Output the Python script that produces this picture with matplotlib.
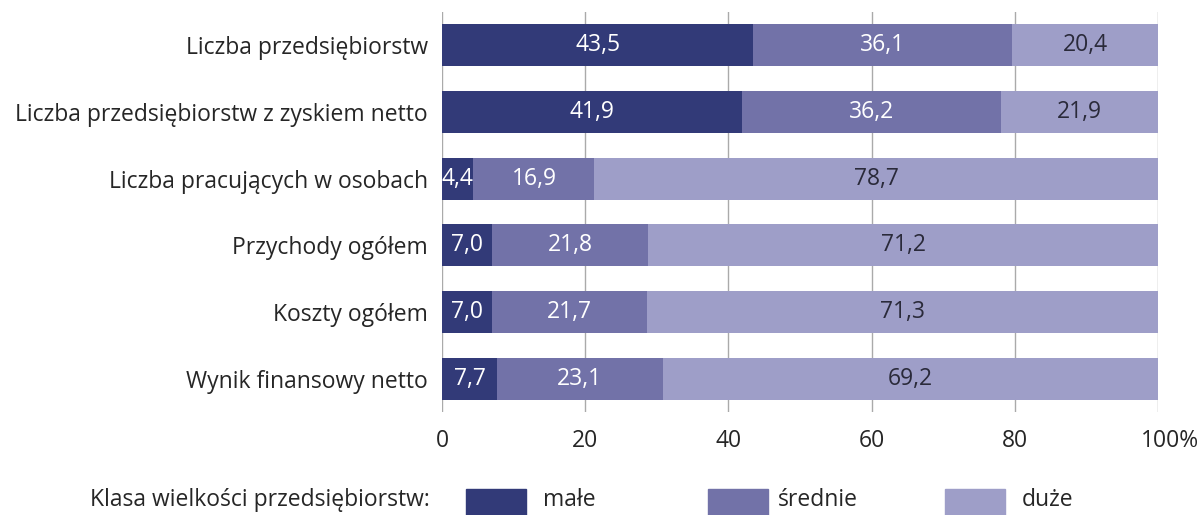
import matplotlib
matplotlib.use("Agg")
import matplotlib.pyplot as plt
from matplotlib.patches import Rectangle
from matplotlib.transforms import ScaledTranslation
import numpy as np

plt.rcParams['font.family'] = ['Open Sans', 'DejaVu Sans']

categories = ["Liczba przedsiębiorstw",
              "Liczba przedsiębiorstw z zyskiem netto",
              "Liczba pracujących w osobach",
              "Przychody ogółem",
              "Koszty ogółem",
              "Wynik finansowy netto"]
male = [43.5, 41.9, 4.4, 7.0, 7.0, 7.7]
srednie = [36.1, 36.2, 16.9, 21.8, 21.7, 23.1]
duze = [20.4, 21.9, 78.7, 71.2, 71.3, 69.2]
series_names = ["małe", "średnie", "duże"]
xticks = [0, 20, 40, 60, 80, 100]
xticklabels = ["0", "20", "40", "60", "80", "100%"]

colors = ["#323a78", "#7272a8", "#9e9ec8"]
text_colors = ["white", "white", "#2a2a3a"]
fs = 16.5

fig = plt.figure(figsize=(12.03, 5.15), dpi=100)
ax = fig.add_axes([0.3674, 0.2, 0.5952, 0.777])

y = np.arange(len(categories))
left = np.zeros(len(categories))
for vals, col, tcol in zip([male, srednie, duze], colors, text_colors):
    vals = np.array(vals)
    ax.barh(y, vals, left=left, height=0.63, color=col, zorder=2)
    for yi, l, v in zip(y, left, vals):
        ax.text(l + v / 2, yi, f"{v:.1f}".replace(".", ","), ha="center", va="center",
                color=tcol, fontsize=fs, zorder=3)
    left += vals

ax.set_xlim(0, 100)
ax.set_ylim(5.5, -0.5)
ax.set_yticks(y)
ax.set_yticklabels(categories, fontsize=fs, color="#262626")
ax.set_xticks(xticks)
ax.set_xticklabels(xticklabels, fontsize=fs, color="#262626")
ax.tick_params(axis="y", length=0, pad=10)
ax.tick_params(axis="x", length=0, pad=12)
# "100%" sits with the number centred on the line
last = ax.get_xticklabels()[-1]
last.set_transform(last.get_transform() + ScaledTranslation(0.12, 0, fig.dpi_scale_trans))
for s in ax.spines.values():
    s.set_visible(False)
ax.grid(axis="x", color="#aaaaaa", linewidth=1, zorder=0)
ax.set_axisbelow(True)

# legend
ly = 1 - 500 / 515
fig.text(430 / 1203, ly, "Klasa wielkości przedsiębiorstw:", ha="right", va="center",
         fontsize=fs, color="#262626")
patch_x = [466, 708, 945]
text_x = [543, 778, 1022]
for px, tx, col, name in zip(patch_x, text_x, colors, series_names):
    fig.patches.append(Rectangle((px / 1203, 0), 60 / 1203, 26 / 515, transform=fig.transFigure,
                                 color=col, figure=fig))
    fig.text(tx / 1203, ly, name, ha="left", va="center", fontsize=fs, color="#262626")

fig.savefig("out.png", dpi=100)
